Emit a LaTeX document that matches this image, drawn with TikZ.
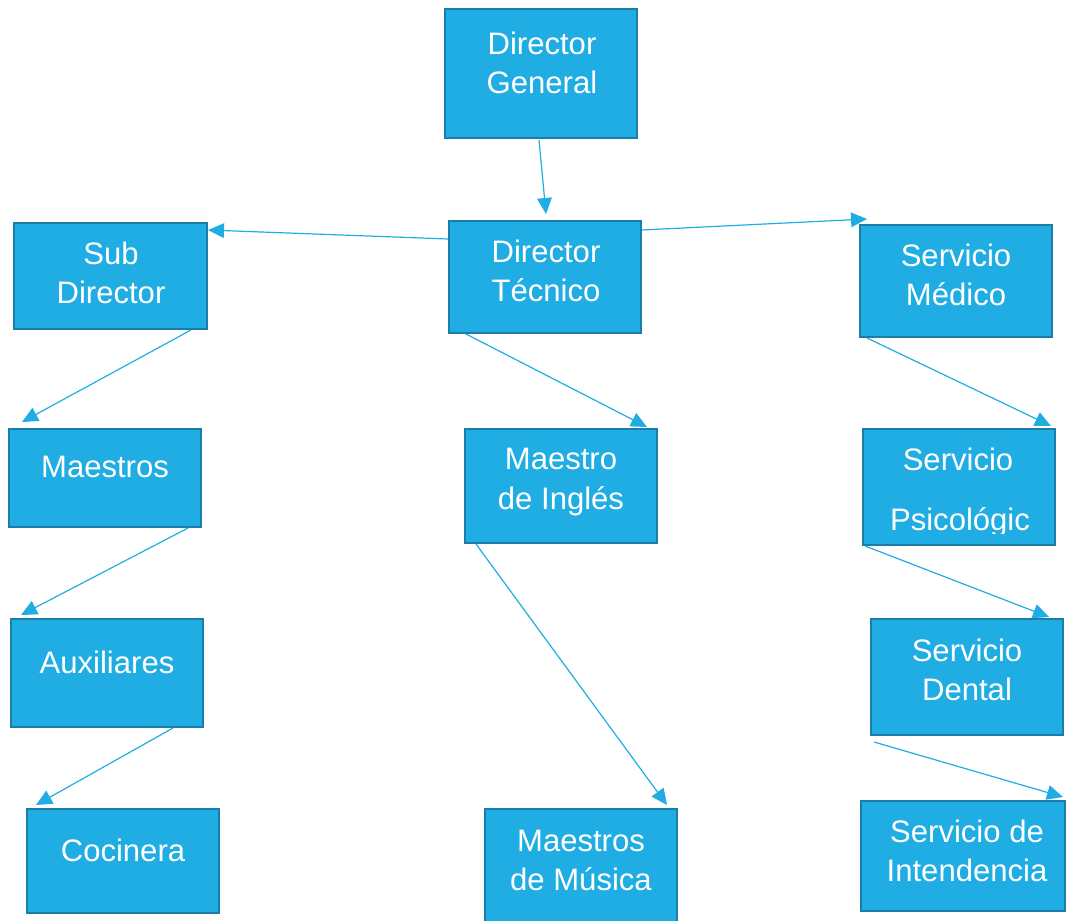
\documentclass[tikz,border=0pt]{standalone}
\usepackage{fontspec}
\setmainfont{Liberation Sans}
\usetikzlibrary{arrows.meta,calc}
\definecolor{boxfill}{HTML}{1FADE3}
\definecolor{boxedge}{HTML}{1A7EA8}
\definecolor{arrcol}{HTML}{1FADE3}
\begin{document}
\begin{tikzpicture}[x=0.75pt,y=-0.75pt,
  box/.style={draw=boxedge,fill=boxfill,line width=1.5pt,inner sep=0pt},
  lbl/.style={text=white,align=center,inner sep=0pt,font=\fontsize{23.3}{29.3}\selectfont},
  arr/.style={draw=arrcol,line width=0.9pt,-{Triangle[length=12pt,width=11pt]}}]
\useasboundingbox (0,0) rectangle (1066,920);
% boxes
\node[box,minimum width=192*0.75pt,minimum height=129*0.75pt] (dg) at (541,73.5) {};
\node[box,minimum width=192*0.75pt,minimum height=112*0.75pt] (dt) at (545,277) {};
\node[box,minimum width=193*0.75pt,minimum height=106*0.75pt] (sub) at (110.5,276) {};
\node[box,minimum width=192*0.75pt,minimum height=112*0.75pt] (sm) at (956,281) {};
\node[box,minimum width=192*0.75pt,minimum height=98*0.75pt] (ma) at (105,478) {};
\node[box,minimum width=192*0.75pt,minimum height=114*0.75pt] (mi) at (561,486) {};
\node[box,minimum width=192*0.75pt,minimum height=116*0.75pt] (sp) at (959,487) {};
\node[box,minimum width=192*0.75pt,minimum height=108*0.75pt] (aux) at (107,673) {};
\node[box,minimum width=192*0.75pt,minimum height=116*0.75pt] (sdn) at (967,677) {};
\node[box,minimum width=192*0.75pt,minimum height=104*0.75pt] (coc) at (123,861) {};
\node[box,minimum width=192*0.75pt,minimum height=120*0.75pt] (mm) at (581,869) {};
\node[box,minimum width=204*0.75pt,minimum height=110*0.75pt] (si) at (963,856) {};
% labels
\node[lbl] (tdg) at (542,62.5) {Director\\General};
\node[lbl] (tdt) at (546,271) {Director\\Técnico};
\node[lbl] (tsub) at (111,273) {Sub\\Director};
\node[lbl] (tsm) at (956,275) {Servicio\\Médico};
\node[lbl] (tma) at (105,467) {Maestros};
\node[lbl] (tmi) at (561,482) {Maestro\\de Inglés};
\node[lbl] (tsp1) at (958,459) {Servicio};
\begin{scope}
\clip (863,500) rectangle (1055,533);
\node[lbl] (tsp2) at (960,522) {Psicológic};
\end{scope}
\node[lbl] (taux) at (107,662) {Auxiliares};
\node[lbl] (tsdn) at (967,670) {Servicio\\Dental};
\node[lbl] (tcoc) at (123,850) {Cocinera};
\node[lbl] (tmm) at (581,860) {Maestros\\de Música};
\node[lbl] (tsi) at (967,851) {Servicio de\\Intendencia};
% connectors
\draw[arr] ($(dg.south)+(-2,1)$) -- ($(dt.north)+(1,-6)$);
\draw[arr] ($(dt.north west)+(0,19)$) -- ($(sub.north east)+(0,8)$);
\draw[arr] ($(dt.north east)+(0,10)$) -- ($(sm.north west)+(8,-5)$);
\draw[arr] ($(sub.south east)+(-17,0)$) -- ($(ma.north west)+(14,-6)$);
\draw[arr] ($(dt.south west)+(18,0)$) -- ($(mi.north east)+(-11,-1)$);
\draw[arr] ($(ma.south east)+(-14,0)$) -- ($(aux.north west)+(11,-3)$);
\draw[arr] ($(aux.south east)+(-31,0)$) -- ($(coc.north west)+(10,-3)$);
\draw[arr] ($(mi.south west)+(12,0)$) -- ($(mm.north east)+(-11,-3)$);
\draw[arr] ($(sm.south west)+(8,0)$) -- ($(sp.north east)+(-5,-2)$);
\draw[arr] ($(sp.south west)+(3,0)$) -- ($(sdn.north east)+(-15,-1)$);
\draw[arr] ($(sdn.south west)+(4,6)$) -- ($(si.north east)+(-3,-3)$);
\end{tikzpicture}
\end{document}
